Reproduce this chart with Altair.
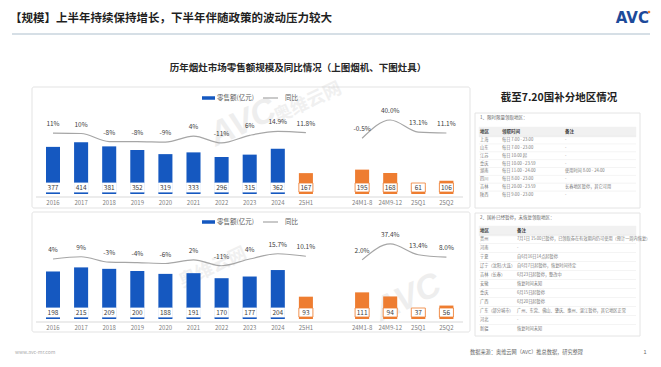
import altair as alt
import pandas as pd

# ---------------- data ----------------
cats_left = ["2016", "2017", "2018", "2019", "2020", "2021", "2022", "2023", "2024", "25H1"]
cats_right = ["24M1-8", "24M9-12", "25Q1", "25Q2"]

hood_sales = [377, 414, 381, 352, 319, 333, 296, 315, 362, 167, 195, 168, 61, 106]
hood_yoy = [11, 10, -8, -8, -9, 4, -11, 6, 14.9, 11.8, -0.5, 40.0, 13.1, 11.1]
hood_yoy_lbl = ["11%", "10%", "-8%", "-8%", "-9%", "4%", "-11%", "6%", "14.9%", "11.8%",
                "-0.5%", "40.0%", "13.1%", "11.1%"]

stove_sales = [198, 215, 209, 200, 188, 191, 170, 177, 204, 93, 111, 94, 37, 56]
stove_yoy = [4, 9, -3, -4, -6, 2, -11, 4, 15.7, 10.1, 2.0, 37.4, 13.4, 8.0]
stove_yoy_lbl = ["4%", "9%", "-3%", "-4%", "-6%", "2%", "-11%", "4%", "15.7%", "10.1%",
                 "2.0%", "37.4%", "13.4%", "8.0%"]

t1_region = ["上海", "山东", "江苏", "重庆", "湖南", "四川", "吉林", "陕西"]
t1_time = ["每日 7:00 - 23:00", "每日 7:00 - 23:00", "每日 10:00 起", "每日 10:00 - 23:59",
           "每日 11:00 - 24:00", "每日 8:00 - 23:00", "每日 20:00 - 23:59", "每日 9:00 - 23:00"]
t1_note = ["-", "-", "-", "-", "使用时间 8:00 - 24:00", "-", "长春地区暂停，其它可用", "-"]

t2_region = ["贵州", "河南", "宁夏", "辽宁（沈阳/大连）", "吉林（长春）", "安徽", "重庆", "广西",
             "广东（部分城市）", "河北", "新疆"]
t2_note = ["7月1日 15:00已暂停，已领取券在有效期内仍可使用（预计一周内恢复）", "-",
           "自6月16日14点起暂停", "自6月7日起暂停，恢复时间待定", "6月23日起暂停，整改中",
           "恢复时间未知", "6月15日起暂停", "6月20日起暂停",
           "广州、东莞、佛山、肇庆、惠州、湛江暂停，其它地区正常", "-", "恢复时间未知"]

# ---------------- style ----------------
BLUE = "#1558c0"
ORANGE = "#ee7d31"
LINE = "#a6a6a6"
TXT = "#404040"
AX = "#7f7f7f"
FONT = "Noto Sans CJK SC"
W, H = 645, 351

domain = cats_left + ["gap"] + cats_right
cats = cats_left + cats_right
kinds = ["blue"] * 9 + ["orange"] * 5
grps = ["L"] * 10 + ["R"] * 4

STEP = 28.1
C0 = 45.0
XA = C0 - STEP / 2
XB = XA + STEP * len(domain)
xenc = alt.X("cat:N", sort=domain,
             scale=alt.Scale(domain=domain, range=[XA, XB], paddingInner=0.5, paddingOuter=0.25),
             axis=None)

one = pd.DataFrame({"a": [0]})


def txt(s, x, y, size=6.5, color=TXT, align="center", weight="normal", angle=0, opacity=1.0,
        font=FONT, style="normal"):
    return alt.Chart(one).mark_text(text=s, fontSize=size, color=color, align=align,
                                    baseline="middle", fontWeight=weight, font=font,
                                    angle=angle, opacity=opacity, fontStyle=style).encode(
        x=alt.value(x), y=alt.value(y))


def rule(x1, x2, y1, y2, color, width=1.0):
    return alt.Chart(one).mark_rule(color=color, strokeWidth=width).encode(
        x=alt.value(x1), x2=alt.value(x2), y=alt.value(y1), y2=alt.value(y2))


def box(x1, x2, y1, y2, fill="#ffffff", stroke="#e2e2e2", sw=1.0, r=0):
    return alt.Chart(one).mark_rect(fill=fill, stroke=stroke, strokeWidth=sw, cornerRadius=r).encode(
        x=alt.value(x1), x2=alt.value(x2), y=alt.value(y1), y2=alt.value(y2))


def panel(sales, yoy, lbls, base, maxv, pxper, line0, legy):
    df = pd.DataFrame({"cat": cats, "kind": kinds, "grp": grps, "sales": sales,
                       "yoy": yoy, "lbl": lbls})
    ysc = alt.Scale(domain=[0, maxv], range=[base, base - maxv * pxper], nice=False, zero=False)
    lsc = alt.Scale(domain=[0, 40], range=[line0, line0 - 18], nice=False, zero=False)
    col = alt.Color("kind:N", scale=alt.Scale(domain=["blue", "orange"], range=[BLUE, ORANGE]),
                    legend=None)
    stk = alt.Stroke("kind:N", scale=alt.Scale(domain=["blue", "orange"], range=["#ffffff", ORANGE]),
                     legend=None)
    bars = alt.Chart(df).mark_bar().encode(x=xenc, y=alt.Y("sales:Q", scale=ysc, axis=None),
                                           y2=alt.value(base), color=col)
    lblbox = alt.Chart(df).mark_bar(fill="#ffffff", strokeWidth=0.8).encode(
        x=xenc, y=alt.value(base - 11), y2=alt.value(base - 2), stroke=stk)
    vals = alt.Chart(df).mark_text(fontSize=6.5, color=TXT, font=FONT, baseline="middle").encode(
        x=xenc, y=alt.value(base - 6.5), text="sales:Q")
    axis_line = rule(28, 455, base + 3, base + 3, "#d9d9d9", 1)
    axlbl = alt.Chart(df).mark_text(fontSize=6, color=AX, font=FONT, baseline="middle").encode(
        x=xenc, y=alt.value(base + 8.5), text="cat:N")
    line = alt.Chart(df).mark_line(interpolate="monotone", color=LINE, strokeWidth=1.2).encode(
        x=xenc, y=alt.Y("yoy:Q", scale=lsc, axis=None), detail="grp:N")
    ylab = alt.Chart(df).mark_text(fontSize=6.5, color=TXT, font=FONT, baseline="middle", dy=-9).encode(
        x=xenc, y=alt.Y("yoy:Q", scale=lsc, axis=None), text="lbl:N")
    legend = [
        rule(194, 207, legy, legy, BLUE, 3.5),
        txt("零售额(亿元)", 209, legy, size=6.5, color="#595959", align="left"),
        rule(255, 270, legy, legy, LINE, 1.2),
        txt("同比", 277, legy, size=6.5, color="#595959", align="left"),
    ]
    return [axis_line, bars, lblbox, vals, axlbl, line, ylab] + legend


def table_layers(regions, cols, y0, y1, xcols, header, hy, title, ty, bx):
    n = len(regions)
    d = {"i": list(range(n)), "c0": regions}
    for k, c in enumerate(cols):
        d["c%d" % (k + 1)] = c
    df = pd.DataFrame(d)
    sc = alt.Scale(domain=[0, n - 1], range=[y0, y1], nice=False, zero=False)
    layers = [box(bx[0], bx[1], bx[2], bx[3], stroke="#e4e4e4"),
              box(bx[0] + 4, bx[1] - 4, hy - 5, hy + 5, fill="#f1f1f1", stroke="#f1f1f1", sw=0.5),
              txt(title, bx[0] + 5, ty, size=4.5, color="#666", align="left")]
    seps = alt.Chart(df).transform_calculate(m="datum.i - 0.5").mark_rule(
        color="#ececec", strokeWidth=0.6).encode(
        x=alt.value(bx[0] + 4), x2=alt.value(bx[1] - 4),
        y=alt.Y("m:Q", scale=sc, axis=None))
    layers.append(seps)
    for k, x in enumerate(xcols):
        layers.append(txt(header[k], x, hy, size=4.5, color="#444", align="left", weight="bold"))
        layers.append(alt.Chart(df).mark_text(fontSize=4.2, color="#777", font=FONT, align="left",
                                              baseline="middle").encode(
            x=alt.value(x), y=alt.Y("i:Q", scale=sc, axis=None), text="c%d:N" % k))
    return layers


layers = []
# header
layers += [
    txt("【规模】上半年持续保持增长，下半年伴随政策的波动压力较大", 2, 11, size=11.5,
        color="#1f1f1f", align="left", weight="bold"),
    txt("AVC", 641, 10, size=15, color="#1d4a9a", align="right", weight="bold",
        font="DejaVu Sans"),
    alt.Chart(one).mark_point(filled=True, size=7, color=ORANGE, opacity=1).encode(
        x=alt.value(641), y=alt.value(4)),
    rule(4, 642, 26, 26, "#c8d5de", 1.5),
    txt("历年烟灶市场零售额规模及同比情况（上图烟机、下图灶具）", 290, 60, size=9.5,
        color="#262626", align="center", weight="bold"),
]
# panels
layers += [box(24, 462, 79, 200, stroke="#e3e3e3", r=2),
           box(24, 462, 204, 324, stroke="#e3e3e3", r=2)]
# watermarks
layers += [
    txt("AVC", 235, 115, size=34, color="#cfcfcf", weight="bold", angle=335, opacity=0.35,
        font="Liberation Sans", style="italic"),
    txt("奥维云网", 300, 95, size=18, color="#cfcfcf", weight="bold", angle=335, opacity=0.3),
    txt("AVC", 400, 290, size=34, color="#cfcfcf", weight="bold", angle=335, opacity=0.35,
        font="Liberation Sans", style="italic"),
    txt("奥维云网", 205, 260, size=18, color="#cfcfcf", weight="bold", angle=335, opacity=0.3),
]
layers += panel(hood_sales, hood_yoy, hood_yoy_lbl, 186, 400, 0.125, 130, 90)
layers += panel(stove_sales, stove_yoy, stove_yoy_lbl, 311, 200, 0.24, 252.8, 214)

# right side: subsidy tables
layers.append(txt("截至7.20国补分地区情况", 551, 90, size=10.5, color="#1f1f1f", weight="bold"))
layers += table_layers(t1_region, [t1_time, t1_note], 132, 187, [472, 494, 557],
                       ["地区", "领取时间", "备注"], 124, "1、限时限量领取地区：", 110,
                       (467, 632, 105, 200))
layers += table_layers(t2_region, [t2_note], 231, 321, [472, 509],
                       ["地区", "备注"], 223, "2、国补已经暂停，未恢复领取地区：", 210,
                       (467, 632, 205, 328))
# footer
layers += [
    txt("www.avc-mr.com", 7, 344, size=5, color="#aaaaaa", align="left"),
    txt("数据来源：奥维云网（AVC）推总数据，研究整理", 462, 344, size=5.2, color="#666666", align="left"),
    txt("1", 637, 344, size=5.5, color="#666666"),
]

chart = alt.layer(*layers).resolve_scale(y="independent", color="independent",
                                         stroke="independent").properties(
    width=W, height=H, autosize=alt.AutoSizeParams(type="none"), padding=0,
    background="#ffffff"
).configure_view(stroke=None)

chart.save("out.html", embed_options={"renderer": "svg", "actions": False})
